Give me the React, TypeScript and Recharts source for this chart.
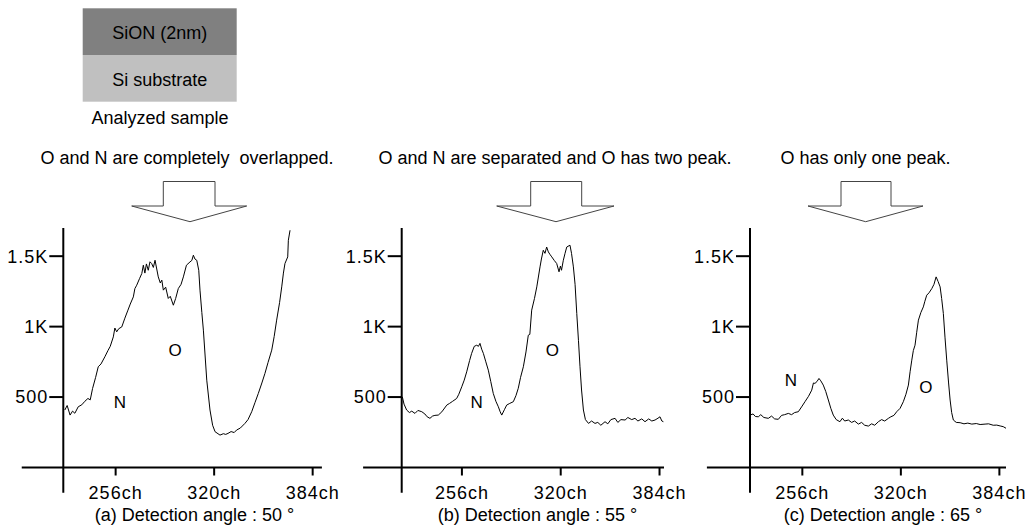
import { LineChart, Line, XAxis, YAxis, ReferenceLine, ReferenceDot } from "recharts"

// channel / counts
const chA = [223, 224.5, 226.4, 228, 229.5, 231.7, 234, 236, 238, 239.5, 241, 243, 244.7, 246.5, 249, 251, 252.5, 254.5, 255.5, 256.7, 258, 260, 262, 264, 265.5, 267.5, 268.5, 269.7, 271.5, 273, 274, 275, 276, 277.2, 278.3, 279.4, 280.5, 281.6, 283.7, 285, 286, 287, 288.5, 290.2, 291.5, 293.5, 295, 296.7, 298.5, 300, 302, 304.3, 305.5, 306.5, 307.5, 308.7, 310, 310.8, 312, 313, 315.2, 317.3, 319, 320.6, 323.8, 326, 327.5, 329, 331, 333, 334.6, 337, 340, 342, 344.4, 346.5, 348.7, 351, 353, 355, 357.4, 359, 360.6, 362.5, 363.9, 365, 366, 367.8, 368.2, 369.3]
const countsA = [408, 440, 372, 400, 385, 431, 445, 470, 490, 480, 560, 640, 715, 735, 786, 830, 860, 927, 990, 963, 985, 998, 1060, 1117, 1160, 1211, 1270, 1294, 1340, 1377, 1436, 1380, 1445, 1400, 1460, 1448, 1420, 1471, 1353, 1310, 1330, 1259, 1280, 1200, 1215, 1152, 1200, 1270, 1300, 1353, 1436, 1459, 1470, 1507, 1480, 1471, 1400, 1259, 1100, 975, 620, 408, 300, 254, 230, 240, 235, 242, 255, 248, 266, 280, 313, 340, 396, 460, 526, 600, 668, 745, 833, 930, 1046, 1170, 1282, 1380, 1448, 1495, 1613, 1684]

const chB = [217.4, 218.5, 220.2, 222, 223.5, 225.6, 227.5, 230, 232, 233.5, 235.3, 237, 238.5, 240.7, 243, 246.2, 248, 250, 252.6, 254, 255.9, 257.5, 259.1, 261, 262.3, 264, 265.6, 266.7, 267.7, 268.8, 269.9, 271.5, 273.1, 274.7, 276.3, 278, 279.6, 280.8, 281.8, 283.5, 285, 287, 289.3, 291, 292.5, 294, 295.8, 297.5, 299, 300, 301.2, 303, 304.5, 306.6, 307.5, 308.7, 309.8, 310.9, 312, 313.2, 314.2, 315.8, 317.4, 318.9, 319.8, 320.5, 321.7, 322.8, 323.9, 326, 327, 328.2, 329.3, 330.4, 331.5, 332.5, 333.5, 334.7, 336, 338, 340, 342.2, 344, 346, 348.7, 350.5, 352.5, 355.2, 357, 359, 361.7, 363.5, 366, 368.1, 370, 372.5, 374.6, 377, 379, 381.1, 383, 384.3, 385.5, 386.5]
const countsB = [502, 450, 408, 390, 400, 384, 405, 396, 380, 360, 349, 365, 370, 372, 395, 443, 455, 470, 490, 520, 573, 620, 679, 760, 810, 860, 868, 860, 881, 840, 810, 750, 691, 610, 526, 470, 431, 395, 372, 410, 443, 455, 467, 510, 562, 640, 715, 820, 939, 945, 1117, 1200, 1282, 1424, 1480, 1542, 1520, 1565, 1530, 1510, 1495, 1470, 1448, 1389, 1430, 1400, 1471, 1520, 1565, 1578, 1520, 1424, 1300, 1093, 900, 715, 550, 408, 340, 313, 330, 313, 320, 300, 325, 310, 340, 349, 320, 340, 337, 355, 340, 349, 330, 345, 325, 345, 330, 337, 350, 360, 330, 325]

const chC = [222, 224, 225.5, 227.4, 229, 231, 233.9, 236, 238, 240.4, 242.5, 244.5, 246.9, 249, 251, 253.4, 255.5, 257.7, 260, 262.1, 263.2, 264.2, 265.5, 266.8, 268, 269.6, 271.2, 272.9, 274.5, 276.1, 278, 280.4, 282, 283.5, 285.9, 288, 290, 292.4, 294.5, 296.5, 298.9, 301, 303, 305.4, 307.5, 309.5, 311.9, 313.5, 315.5, 317.3, 319.5, 321.6, 323.3, 324.9, 326, 327.1, 328.1, 329.2, 330.3, 331.4, 333, 334.6, 335.6, 336.8, 338.3, 340.1, 341.5, 342.9, 344.2, 345.5, 346.5, 347.6, 348.7, 349.8, 351, 352, 353, 354.1, 356, 358.5, 361, 363.5, 366.1, 369, 371.5, 374.7, 377, 380, 382.3, 384.5, 386.5, 388.4]
const countsC = [372, 380, 362, 360, 375, 355, 349, 365, 345, 342, 370, 375, 384, 375, 390, 396, 430, 467, 505, 549, 600, 597, 610, 632, 615, 585, 540, 479, 420, 372, 340, 325, 350, 330, 337, 320, 330, 308, 320, 300, 294, 310, 300, 325, 340, 330, 349, 360, 370, 396, 420, 467, 520, 585, 680, 762, 830, 868, 960, 1046, 1100, 1140, 1180, 1223, 1240, 1270, 1300, 1353, 1320, 1282, 1200, 1093, 920, 762, 600, 479, 390, 337, 320, 318, 310, 315, 308, 312, 305, 308, 310, 300, 301, 295, 290, 278]

const xTicks = [256, 320, 384]
const yTicks = [500, 1000, 1500]
const yTickLabels = ["500", "1K", "1.5K"]

const FONT = "'Liberation Sans', Arial, Helvetica, sans-serif"

const toRows = (ch: number[], v: number[]) => ch.map((c, i) => ({ ch: c, count: v[i] }))

interface PanelProps {
  ch: number[]
  counts: number[]
  left: number
  width: number
  axisWidth: number
  rightMargin: number
  domain: [number, number]
  axisStart: number
  nLabel: [number, number]
  oLabel: [number, number]
}

function Panel({ ch, counts, left, width, axisWidth, rightMargin, domain, axisStart, nLabel, oLabel }: PanelProps) {
  const data = toRows(ch, counts)
  const tickStyle = { fontSize: 18, fill: "#000", fontFamily: FONT, letterSpacing: 1 }
  const lbl = { fontSize: 17, fill: "#000", fontFamily: FONT }
  return (
    <div style={{ position: "absolute", left, top: 220 }}>
      <LineChart width={width} height={300} data={data} margin={{ top: 8, right: rightMargin, bottom: 2.5, left: 0 }}>
        <XAxis
          type="number"
          dataKey="ch"
          domain={domain}
          allowDataOverflow
          ticks={xTicks}
          tickFormatter={(v) => `${v}ch`}
          axisLine={false}
          tickLine={{ stroke: "#000", strokeWidth: 2 }}
          tickSize={8}
          tickMargin={11}
          height={50}
          tick={tickStyle}
          interval={0}
        />
        <YAxis
          type="number"
          domain={[0, 1700]}
          allowDataOverflow
          ticks={yTicks}
          tickFormatter={(v) => yTickLabels[yTicks.indexOf(v)] ?? String(v)}
          axisLine={false}
          tickLine={{ stroke: "#000", strokeWidth: 2 }}
          tickSize={14}
          tickMargin={1}
          width={axisWidth}
          tick={tickStyle}
          interval={0}
        />
        {/* x axis runs past the y axis on the left, y axis hangs below the x axis */}
        <ReferenceLine
          segment={[{ x: axisStart, y: 0 }, { x: domain[1], y: 0 }]}
          stroke="#000"
          strokeWidth={2}
          ifOverflow="visible"
        />
        <ReferenceLine
          segment={[{ x: domain[0], y: -180 }, { x: domain[0], y: 1700 }]}
          stroke="#000"
          strokeWidth={2}
          ifOverflow="visible"
        />
        <Line type="linear" dataKey="count" stroke="#000" strokeWidth={1} dot={false} isAnimationActive={false} />
        <ReferenceDot x={nLabel[0]} y={nLabel[1]} r={0} stroke="none" label={{ value: "N", position: "center", ...lbl }} />
        <ReferenceDot x={oLabel[0]} y={oLabel[1]} r={0} stroke="none" label={{ value: "O", position: "center", ...lbl }} />
      </LineChart>
    </div>
  )
}

function Arrow({ shaftL, shaftR, headL, headR, tip }: { shaftL: number; shaftR: number; headL: number; headR: number; tip: number }) {
  const pts = [
    [shaftL, 181.5], [shaftR, 181.5], [shaftR, 206], [headR, 206],
    [tip, 221.7], [headL, 206], [shaftL, 206],
  ].map((p) => p.join(",")).join(" ")
  return <polygon points={pts} fill="#fff" stroke="#444" strokeWidth={1} />
}

export default function App() {
  const t = { fontFamily: FONT, fontSize: 18, fill: "#000", textAnchor: "middle" as const }
  return (
    <div style={{ position: "absolute", left: 0, top: 0, width: 1028, height: 529, background: "#fff" }}>
      <Panel ch={chA} counts={countsA} left={0} width={340} axisWidth={63.3} rightMargin={18.1}
        domain={[222, 390]} axisStart={195} nLabel={[258.8, 466]} oLabel={[294.6, 833]} />
      <Panel ch={chB} counts={countsB} left={340} width={352} axisWidth={61.7} rightMargin={28}
        domain={[217, 386.9]} axisStart={192} nLabel={[265.6, 466]} oLabel={[314.6, 833]} />
      <Panel ch={chC} counts={countsC} left={680} width={348} axisWidth={70} rightMargin={22}
        domain={[222, 388.3]} axisStart={194} nLabel={[248.6, 620]} oLabel={[336.3, 573]} />

      <svg width={1028} height={529} style={{ position: "absolute", left: 0, top: 0, pointerEvents: "none" }}>
        <rect x={82.7} y={8.3} width={154} height={46.7} fill="#808080" />
        <rect x={82.7} y={55} width={154} height={46.7} fill="#c0c0c0" />
        <text x={159.7} y={39} {...t}>SiON (2nm)</text>
        <text x={159.7} y={86} {...t}>Si substrate</text>
        <text x={160} y={124} {...t}>Analyzed sample</text>

        <text x={187} y={164} {...t}>{"O and N are completely\u00a0 overlapped."}</text>
        <text x={555} y={164} {...t}>O and N are separated and O has two peak.</text>
        <text x={865.5} y={164} {...t}>O has only one peak.</text>

        <Arrow shaftL={163.3} shaftR={215} headL={131.7} headR={246.7} tip={190} />
        <Arrow shaftL={530.7} shaftR={581.7} headL={496.7} headR={614} tip={556} />
        <Arrow shaftL={841} shaftR={891} headL={808} headR={923} tip={865.7} />

        <text x={194.5} y={520.7} {...t}>(a) Detection angle : 50 °</text>
        <text x={537.5} y={520.7} {...t}>(b) Detection angle : 55 °</text>
        <text x={883} y={520.7} {...t}>(c) Detection angle : 65 °</text>
      </svg>
    </div>
  )
}
